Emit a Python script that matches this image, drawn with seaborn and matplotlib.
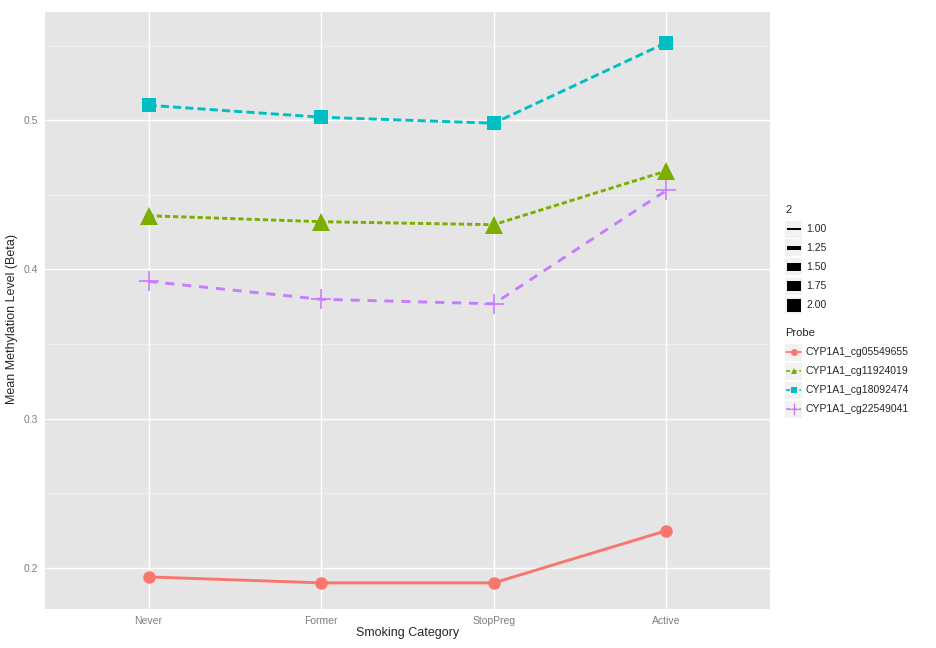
import numpy as np
import pandas as pd
import matplotlib
matplotlib.use("Agg")
import matplotlib.pyplot as plt
from matplotlib.lines import Line2D
from matplotlib.patches import Rectangle
import seaborn as sns

categories = ["Never", "Former", "StopPreg", "Active"]
probes = ["CYP1A1_cg05549655", "CYP1A1_cg11924019", "CYP1A1_cg18092474", "CYP1A1_cg22549041"]
cg05549655 = [0.194, 0.190, 0.190, 0.225]
cg11924019 = [0.436, 0.432, 0.430, 0.466]
cg18092474 = [0.510, 0.502, 0.498, 0.552]
cg22549041 = [0.392, 0.380, 0.377, 0.453]
size_levels = ["1.00", "1.25", "1.50", "1.75", "2.00"]

colors = ["#F8766D", "#7CAE00", "#00BFC4", "#C77CFF"]
markers = ["o", "^", "s", "+"]
msizes = [9, 13, 10, 14]
dashes = [(None, None), (1.8, 1.0), (2.8, 1.4), (3.1, 2.7)]

df = pd.DataFrame({
    "Smoking": categories * 4,
    "Probe": np.repeat(probes, 4),
    "Beta": cg05549655 + cg11924019 + cg18092474 + cg22549041,
})
df["pos"] = df["Smoking"].map({c: i for i, c in enumerate(categories)})

sns.set_style("white")
plt.rcParams["font.family"] = ["Liberation Sans", "DejaVu Sans"]

fig = plt.figure(figsize=(9.36, 6.48), dpi=100)
ax = fig.add_axes([45 / 936, 39 / 648, 725 / 936, 597 / 648])
ax.set_facecolor("#E5E5E5")

for i, p in enumerate(probes):
    sub = df[df["Probe"] == p]
    sns.lineplot(data=sub, x="pos", y="Beta", ax=ax, color=colors[i], linewidth=2.1,
                 sort=False, legend=False, zorder=3)
    line = ax.lines[-1]
    if dashes[i][0] is not None:
        line.set_dashes(dashes[i])
    ax.plot(sub["pos"], sub["Beta"], linestyle="none", marker=markers[i],
            markersize=msizes[i], color=colors[i], markeredgewidth=1.2 if markers[i] == "+" else 0,
            zorder=4)

ax.set_xlim(-0.6, 3.6)
ax.set_ylim(0.1725, 0.5725)
ax.set_xticks(range(4))
ax.set_xticklabels(categories)
ax.set_yticks([0.2, 0.3, 0.4, 0.5])
ax.set_yticklabels(["0.2", "0.3", "0.4", "0.5"])
ax.set_yticks([0.25, 0.35, 0.45, 0.55], minor=True)
ax.grid(which="major", color="white", linewidth=1.0, zorder=0)
ax.grid(which="minor", axis="y", color="#F2F2F2", linewidth=0.6, zorder=0)
ax.set_axisbelow(True)
for s in ax.spines.values():
    s.set_visible(False)
ax.tick_params(axis="both", which="major", length=3, width=0.8, color="#7F7F7F",
               labelcolor="#7F7F7F", labelsize=7.5, pad=2)
ax.tick_params(axis="both", which="minor", length=0)
ax.set_xlabel("Smoking Category", fontsize=9, labelpad=1)
ax.set_ylabel("Mean Methylation Level (Beta)", fontsize=9, labelpad=0)
ax.yaxis.set_label_coords(-27 / 725, 0.485)

# legends drawn in figure pixel coordinates
W, H = 936, 648
def fx(x):
    return x / W
def fy(y):
    return 1 - y / H

fig.text(fx(785), fy(210), "2", fontsize=8, va="center", ha="left")
key_w, key_h = 17, 17
bar_h = [2, 4, 9, 10, 13]
for j, lab in enumerate(size_levels):
    cy = 229 + j * 19
    fig.add_artist(Rectangle((fx(785), fy(cy + key_h / 2)), key_w / W, key_h / H,
                             transform=fig.transFigure, facecolor="#F2F2F2", edgecolor="none"))
    fig.add_artist(Rectangle((fx(786.5), fy(cy + bar_h[j] / 2)), 14 / W, bar_h[j] / H,
                             transform=fig.transFigure, facecolor="black", edgecolor="none"))
    fig.text(fx(806), fy(cy), lab, fontsize=7.5, va="center", ha="left")

fig.text(fx(785), fy(333), "Probe", fontsize=8, va="center", ha="left")
for i, p in enumerate(probes):
    cy = 352 + i * 19
    fig.add_artist(Rectangle((fx(785), fy(cy + key_h / 2)), key_w / W, key_h / H,
                             transform=fig.transFigure, facecolor="#F2F2F2", edgecolor="none"))
    ln = Line2D([fx(786), fx(801)], [fy(cy), fy(cy)], transform=fig.transFigure,
                color=colors[i], linewidth=1.2)
    if dashes[i][0] is not None:
        ln.set_dashes((2.5, 1.5))
    fig.add_artist(ln)
    fig.add_artist(Line2D([fx(793.5)], [fy(cy)], transform=fig.transFigure, color=colors[i],
                          marker=markers[i], markersize=5 if markers[i] != "+" else 9,
                          markeredgewidth=0 if markers[i] != "+" else 0.9, linestyle="none"))
    fig.text(fx(806), fy(cy), p, fontsize=7.5, va="center", ha="left")

fig.savefig("out.png", dpi=100)
